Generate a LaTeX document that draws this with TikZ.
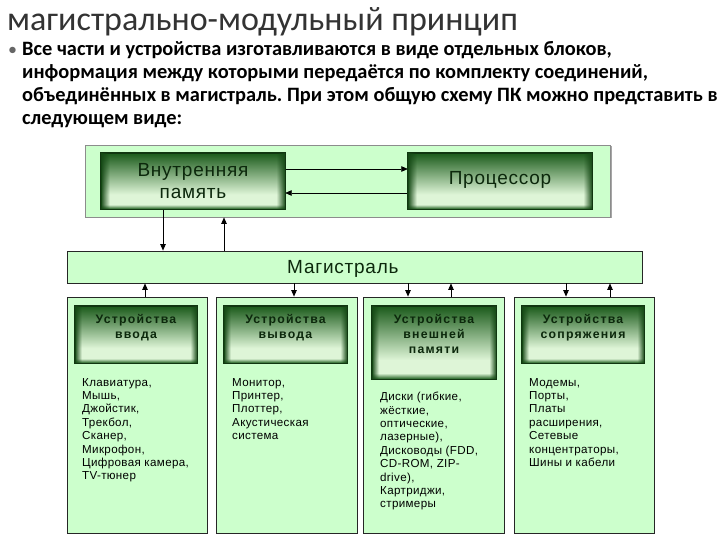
\documentclass[tikz,border=0pt]{standalone}
\usepackage{fontspec}
\setmainfont{Carlito}
\newfontfamily\arialf{Liberation Sans}
\newfontfamily\arialbig[LetterSpace=4]{Liberation Sans}
\newfontfamily\arialsmall[LetterSpace=3]{Liberation Sans}
\newfontfamily\arialsp[LetterSpace=10]{Liberation Sans}
\usetikzlibrary{arrows.meta,fadings}
\definecolor{lg}{RGB}{204,255,204}
\definecolor{dkg}{RGB}{26,90,26}
\definecolor{ltg}{RGB}{222,245,215}
\definecolor{htx}{RGB}{12,40,12}
\pgfdeclareverticalshading{hdr}{100bp}{color(0bp)=(dkg); color(25bp)=(dkg); color(29bp)=(ltg); color(38bp)=(ltg); color(75bp)=(dkg); color(100bp)=(dkg)}
\frenchspacing
\begin{document}
\begin{tikzpicture}[x=1pt,y=-1pt,
  pane/.style={draw=black!85, line width=0.8pt, fill=lg, rectangle, inner sep=0},
  hdrbox/.style={draw=dkg!60!black, line width=0.6pt, shade, shading=hdr, rectangle, inner sep=0},
  hdrtxt/.style={font=\arialsp\bfseries\fontsize{12.3}{15}\selectfont, text=htx, align=center, inner sep=0, anchor=north},
  bigtxt/.style={font=\arialbig\fontsize{19}{22}\selectfont, text=htx, align=center, inner sep=0},
  listtxt/.style={font=\arialsmall\fontsize{11.6}{13.4}\selectfont, text=black, align=left, inner sep=0, anchor=north west},
  arr/.style={-{Triangle[length=6.5pt,width=5.5pt]}, line width=0.7pt, black},
  sidefade/.style={dkg!80!black}
]
\useasboundingbox (0,0) rectangle (720,540);
\fill[white] (0,0) rectangle (720,540);

% title and text
\node[anchor=base west, font=\fontsize{34}{36}\selectfont, text=black!80, inner sep=0] (title) at (7,31) {магистрально-модульный принцип};
\node[anchor=base west, font=\fontsize{18}{20}\selectfont, text=black!60, inner sep=0] (bul) at (8,56) {•};
\node[anchor=base west, font=\bfseries\fontsize{20.4}{23}\selectfont, inner sep=0] (l1) at (22,56) {Все части и устройства изготавливаются в виде отдельных блоков,};
\node[anchor=base west, font=\bfseries\fontsize{20.4}{23}\selectfont, inner sep=0] (l2) at (22,79) {информация между которыми передаётся по комплекту соединений,};
\node[anchor=base west, font=\bfseries\fontsize{20.4}{23}\selectfont, inner sep=0] (l3) at (22,102) {объединённых в магистраль. При этом общую схему ПК можно представить в};
\node[anchor=base west, font=\bfseries\fontsize{20.4}{23}\selectfont, inner sep=0] (l4) at (22,125) {следующем виде:};

% top outer box with shadow
\fill[black!35] (86.5,146.5) rectangle (611.5,218.5);
\node[pane, draw=black!45, minimum width=525pt, minimum height=72pt] (top) at (347.5,181) {};

% bus
\node[pane, minimum width=575pt, minimum height=32pt] (bus) at (354.5,267) {};
\node[bigtxt, anchor=base west] (bust) at (287,273) {Магистраль};

% bottom boxes
\node[pane, minimum width=140pt, minimum height=236pt] (b1) at (137,415) {};
\node[pane, minimum width=141pt, minimum height=236pt] (b2) at (286.5,415) {};
\node[pane, minimum width=141pt, minimum height=236pt] (b3) at (433.5,415) {};
\node[pane, minimum width=140pt, minimum height=236pt] (b4) at (584,415) {};

% inner box nodes (positions only, drawn below)
\path (193,181) node[minimum width=184pt, minimum height=56pt, inner sep=0] (mem) {}
      (500,181) node[minimum width=184pt, minimum height=56pt, inner sep=0] (cpu) {};

% connectors
\draw[arr] (mem.east |- 0,169) -- (cpu.west |- 0,169);
\draw[arr] (cpu.west |- 0,193) -- (mem.east |- 0,193);
\draw[arr] (mem.south -| 163,0) -- (bus.north -| 163,0);
\draw[arr] (bus.north -| 224,0) -- (top.south -| 224,0);
\draw[arr] (b1.north -| 145,0) -- (bus.south -| 145,0);
\draw[arr] (bus.south -| 294,0) -- (b2.north -| 294,0);
\draw[arr] (bus.south -| 408,0) -- (b3.north -| 408,0);
\draw[arr] (b3.north -| 451,0) -- (bus.south -| 451,0);
\draw[arr] (bus.south -| 566,0) -- (b4.north -| 566,0);
\draw[arr] (b4.north -| 610,0) -- (bus.south -| 610,0);

% shaded boxes
\node[hdrbox, minimum width=184pt, minimum height=56pt] (memb) at (mem.center) {};
\node[hdrbox, minimum width=184pt, minimum height=56pt] (cpub) at (cpu.center) {};
\node[hdrbox, minimum width=122pt, minimum height=57pt] (h1) at (136,334.5) {};
\node[hdrbox, minimum width=123pt, minimum height=57pt] (h2) at (285.5,334.5) {};
\node[hdrbox, minimum width=124pt, minimum height=73pt] (h3) at (434,342.5) {};
\node[hdrbox, minimum width=122pt, minimum height=57pt] (h4) at (583,334.5) {};
\foreach \n/\w in {memb/9,cpub/9,h1/7,h2/7,h3/7,h4/7}{
  \fill[sidefade, path fading=east] (\n.north west) rectangle ([xshift=\w pt]\n.south west);
  \fill[sidefade, path fading=west] ([xshift=-\w pt]\n.north east) rectangle (\n.south east);
  \draw[draw=dkg!60!black, line width=0.6pt] (\n.north west) rectangle (\n.south east);
}
\node[bigtxt, anchor=north] (memt) at (193,163) {Внутренняя\\память};
\node[bigtxt, anchor=base] (cput) at (500,185) {Процессор};
\node[hdrtxt] (h1t) at (136,314) {Устройства\\ввода};
\node[hdrtxt] (h2t) at (285.5,314) {Устройства\\вывода};
\node[hdrtxt] (h3t) at (434,314) {Устройства\\внешней\\памяти};
\node[hdrtxt] (h4t) at (583,314) {Устройства\\сопряжения};

\node[listtxt] (b1t) at (82,378) {Клавиатура,\\Мышь,\\Джойстик,\\Трекбол,\\Сканер,\\Микрофон,\\Цифровая камера,\\TV-тюнер};
\node[listtxt] (b2t) at (232,378) {Монитор,\\Принтер,\\Плоттер,\\Акустическая\\система};
\node[listtxt] (b3t) at (380,392) {Диски (гибкие,\\жёсткие,\\оптические,\\лазерные),\\Дисководы (FDD,\\CD-ROM, ZIP-\\drive),\\Картриджи,\\стримеры};
\node[listtxt] (b4t) at (529,378) {Модемы,\\Порты,\\Платы\\расширения,\\Сетевые\\концентраторы,\\Шины и кабели};
\end{tikzpicture}
\end{document}
